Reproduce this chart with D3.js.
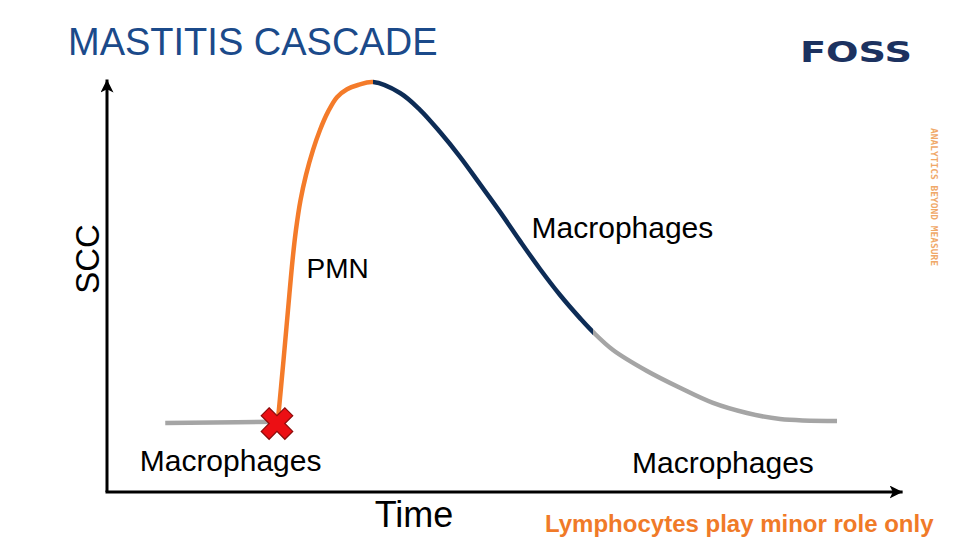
<!DOCTYPE html>
<html>
<head>
<meta charset="utf-8">
<script src="https://cdn.jsdelivr.net/npm/d3@7"></script>
<style>
	body { margin: 0; background: #fff; }
	svg { display: block; font-family: Arial, "Liberation Sans", sans-serif; }
</style>
</head>
<body>
<div id="chart"></div>
<script>
// time vs SCC, arbitrary units 0..100
// healthy baseline before infection
const baseTime = [7.3, 16.3, 21.4];
const baseScc = [16.4, 16.6, 16.7];

// infection curve (rise, peak, decline)
const curveTime = [21.4, 22.12, 22.68, 23.25, 23.68, 24.25, 24.94, 25.81, 26.69, 27.69, 28.82, 30.08, 31.45, 33.33,
	36.72, 39.22, 41.73, 44.24, 46.74, 49.25, 51.75, 54.26, 56.77, 59.27, 60.9,
	63.41, 67.67, 71.8, 75.94, 80.2, 84.34, 91.48];
const curveScc = [16.7, 31.4, 43.3, 55.2, 62.4, 69.5, 75.5, 81.4, 86.2, 90.5, 94.0, 95.9, 96.9, 97.6,
	95.0, 91.0, 85.7, 79.8, 73.3, 66.7, 59.8, 53.1, 46.9, 41.4, 38.1,
	33.8, 28.8, 24.8, 21.2, 18.8, 17.4, 16.9];

// phases of the curve: colour start / end on the time axis
const phaseNames = ['PMN', 'macrophages', 'recovery'];
const phaseStart = [0, 33.33, 60.9];
const phaseEnd = [33.33, 60.9, 100];
const phaseColors = ['#f47b2a', '#0d2c56', '#a5a5a5'];
const baseColor = '#a5a5a5';

const infection = {time: 21.3, scc: 16.3};

const labels = [
	{text: 'PMN', time: 25, scc: 51, size: 28},
	{text: 'Macrophages', time: 53.2, scc: 60.5, size: 30},
	{text: 'Macrophages', time: 4.1, scc: 5.1, size: 30},
	{text: 'Macrophages', time: 65.8, scc: 4.6, size: 30}
];

const width = 960, height = 540;

const x = d3.scaleLinear().domain([0, 100]).range([107, 905]);
const y = d3.scaleLinear().domain([0, 100]).range([492, 72]);

const svg = d3.select('#chart').append('svg')
	.attr('width', width)
	.attr('height', height);

const defs = svg.append('defs');

// arrow marker
defs.append('marker')
	.attr('id', 'arrow')
	.attr('markerUnits', 'userSpaceOnUse')
	.attr('viewBox', '0 0 12 12')
	.attr('refX', 12).attr('refY', 6)
	.attr('markerWidth', 13).attr('markerHeight', 13)
	.attr('orient', 'auto')
	.append('path')
	.attr('d', 'M0,0 L12,6 L0,12 L3,6 Z')
	.attr('fill', '#000');

// one clip per phase so the colours share one smooth curve
defs.selectAll('clipPath')
	.data(phaseNames)
	.enter().append('clipPath')
	.attr('id', d => 'clip-' + d)
	.append('rect')
	.attr('x', (d, i) => x(phaseStart[i]))
	.attr('width', (d, i) => x(phaseEnd[i]) - x(phaseStart[i]))
	.attr('y', 0)
	.attr('height', height);

// axes
svg.append('line')
	.attr('x1', x(0)).attr('y1', y(0))
	.attr('x2', x(0)).attr('y2', y(98.2))
	.attr('stroke', '#000').attr('stroke-width', 3)
	.attr('marker-end', 'url(#arrow)');
svg.append('line')
	.attr('x1', x(0) - 1.5).attr('y1', y(0))
	.attr('x2', x(99.7)).attr('y2', y(0))
	.attr('stroke', '#000').attr('stroke-width', 3)
	.attr('marker-end', 'url(#arrow)');

// baseline
svg.append('path')
	.attr('d', d3.line().x(d => x(d[0])).y(d => y(d[1]))(d3.zip(baseTime, baseScc)))
	.attr('fill', 'none')
	.attr('stroke', baseColor)
	.attr('stroke-width', 4.5);

// curve
const line = d3.line()
	.x(d => x(d[0]))
	.y(d => y(d[1]))
	.curve(d3.curveCatmullRom.alpha(0.5));

const pathD = line(d3.zip(curveTime, curveScc));

svg.selectAll('.seg')
	.data(phaseNames)
	.enter().append('path')
	.attr('class', 'seg')
	.attr('d', pathD)
	.attr('clip-path', d => `url(#clip-${d})`)
	.attr('fill', 'none')
	.attr('stroke', (d, i) => phaseColors[i])
	.attr('stroke-width', 4.5);

// infection marker
svg.append('path')
	.attr('d', d3.symbol(d3.symbolCross, 620)())
	.attr('transform', `translate(${x(infection.time)},${y(infection.scc)}) rotate(45)`)
	.attr('fill', '#ec0f14')
	.attr('stroke', '#8c0a0a')
	.attr('stroke-width', 1.2);

// labels
svg.selectAll('.lbl')
	.data(labels)
	.enter().append('text')
	.attr('class', 'lbl')
	.attr('x', d => x(d.time))
	.attr('y', d => y(d.scc))
	.attr('font-size', d => d.size)
	.attr('fill', '#000')
	.text(d => d.text);

// axis titles
svg.append('text')
	.attr('transform', 'translate(99,259) rotate(-90)')
	.attr('text-anchor', 'middle')
	.attr('font-size', 33)
	.attr('fill', '#000')
	.text('SCC');

svg.append('text')
	.attr('x', 414).attr('y', 527)
	.attr('text-anchor', 'middle')
	.attr('font-size', 36)
	.attr('fill', '#000')
	.text('Time');

svg.append('text')
	.attr('x', 545).attr('y', 532)
	.attr('font-size', 24)
	.attr('font-weight', 'bold')
	.attr('fill', '#f07a28')
	.text('Lymphocytes play minor role only');

// title
svg.append('text')
	.attr('x', 68).attr('y', 55)
	.attr('font-size', 38)
	.attr('fill', '#1b4a8a')
	.text('MASTITIS CASCADE');

// logo
svg.append('text')
	.attr('x', 800).attr('y', 62)
	.attr('font-size', 28)
	.attr('font-weight', 'bold')
	.attr('font-family', 'DejaVu Sans, sans-serif')
	.attr('textLength', 112)
	.attr('lengthAdjust', 'spacingAndGlyphs')
	.attr('fill', '#1c3260')
	.text('FOSS');

svg.append('text')
	.attr('transform', 'translate(931,128) rotate(90)')
	.attr('font-size', 8)
	.attr('font-weight', 'bold')
	.attr('font-family', 'DejaVu Sans Mono, monospace')
	.attr('textLength', 138)
	.attr('lengthAdjust', 'spacingAndGlyphs')
	.attr('fill', '#f0a868')
	.text('ANALYTICS BEYOND MEASURE');
</script>
</body>
</html>
